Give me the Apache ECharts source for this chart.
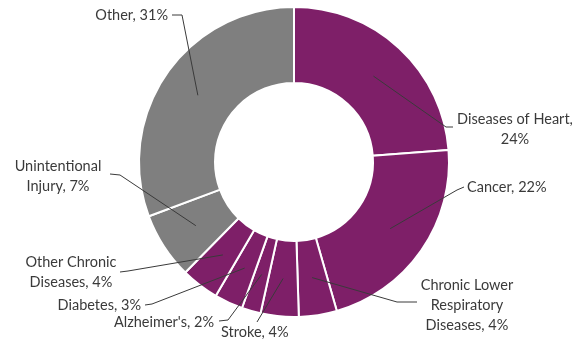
<!DOCTYPE html>
<html>
<head>
<meta charset="utf-8">
<script src="https://cdn.jsdelivr.net/npm/echarts@6/dist/echarts.min.js"></script>
<style>
  html, body { margin: 0; padding: 0; background: #ffffff; }
  #chart { width: 584px; height: 339px; }
</style>
</head>
<body>
<div id="chart"></div>
<script>
// Leading causes of death, share of all deaths (%)
const categories = [
  'Diseases of Heart', 'Cancer', 'Chronic Lower Respiratory Diseases', 'Stroke',
  "Alzheimer's", 'Diabetes', 'Other Chronic Diseases', 'Unintentional Injury', 'Other'
];
const shares = [24, 22, 4, 4, 2, 3, 4, 7, 31];
// How each category name is broken across lines in its label
const labelNames = [
  'Diseases of Heart,\n', 'Cancer, ', 'Chronic Lower\nRespiratory\nDiseases, ', 'Stroke, ',
  "Alzheimer's, ", 'Diabetes, ', 'Other Chronic\nDiseases, ', 'Unintentional\nInjury, ', 'Other, '
];

const PURPLE = '#7e1f68';
const GREY = '#7f7f7f';
const sliceColors = [PURPLE, PURPLE, PURPLE, PURPLE, PURPLE, PURPLE, PURPLE, GREY, GREY];

const CX = 294, CY = 162, R_OUT = 155, R_IN = 79;
const R_MID = (R_OUT + R_IN) / 2;

// Label anchor, alignment and leader-line bend points per slice
const labelPlacement = [
  { x: 515, y: 129, align: 'center', bend: [[446, 127], [453, 127]] },
  { x: 467, y: 187, align: 'left',   bend: [[457, 190], [464, 187]] },
  { x: 467, y: 305, align: 'center', bend: [[397, 302], [417, 302]] },
  { x: 221, y: 332, align: 'left',   bend: [[257, 322]] },
  { x: 214, y: 322, align: 'right',  bend: [[228, 320], [219, 321]] },
  { x: 141, y: 305, align: 'right',  bend: [[152, 304], [145, 305]] },
  { x: 71,  y: 272, align: 'center', bend: [[128, 271], [120, 272]] },
  { x: 58,  y: 176, align: 'center', bend: [[120, 175], [110, 174]] },
  { x: 168, y: 15,  align: 'right',  bend: [[182, 15], [172, 15]] }
];

const ring = {
  type: 'pie',
  center: [CX, CY],
  radius: [R_IN, R_OUT],
  startAngle: 90,
  clockwise: true,
  avoidLabelOverlap: false,
  emphasis: { disabled: true }
};

const chart = echarts.init(document.getElementById('chart'), null, { renderer: 'canvas' });

chart.setOption({
  animation: false,
  backgroundColor: '#ffffff',
  series: [
    // Coloured ring
    Object.assign({}, ring, {
      z: 1,
      data: categories.map((name, i) => ({
        name: name,
        value: shares[i],
        itemStyle: { color: sliceColors[i] }
      })),
      itemStyle: { borderColor: '#ffffff', borderWidth: 2 },
      label: { show: false },
      labelLine: { show: false }
    }),
    // Same ring, transparent, carrying the labels so leader lines sit above the slices
    Object.assign({}, ring, {
      z: 3,
      silent: true,
      data: categories.map((name, i) => ({
        name: name,
        value: shares[i],
        label: { formatter: labelNames[i] + shares[i] + '%' }
      })),
      itemStyle: { color: 'rgba(0,0,0,0)', borderWidth: 0 },
      label: {
        show: true,
        position: 'outside',
        fontFamily: 'Lato',
        fontSize: 14.5,
        lineHeight: 20,
        color: '#3a3a3a',
        align: 'center'
      },
      labelLine: {
        show: true,
        length: 10,
        length2: 10,
        lineStyle: { color: '#3a3a3a', width: 1 }
      },
      labelLayout: function (params) {
        const p = labelPlacement[params.dataIndex];
        // Start the leader line in the middle of the ring, along the slice's mid-angle
        const p0 = params.labelLinePoints[0];
        const k = R_MID / R_OUT;
        const start = [CX + (p0[0] - CX) * k, CY + (p0[1] - CY) * k];
        return {
          x: p.x,
          y: p.y,
          align: p.align,
          verticalAlign: 'middle',
          labelLinePoints: [start].concat(p.bend)
        };
      }
    })
  ]
});
</script>
</body>
</html>
